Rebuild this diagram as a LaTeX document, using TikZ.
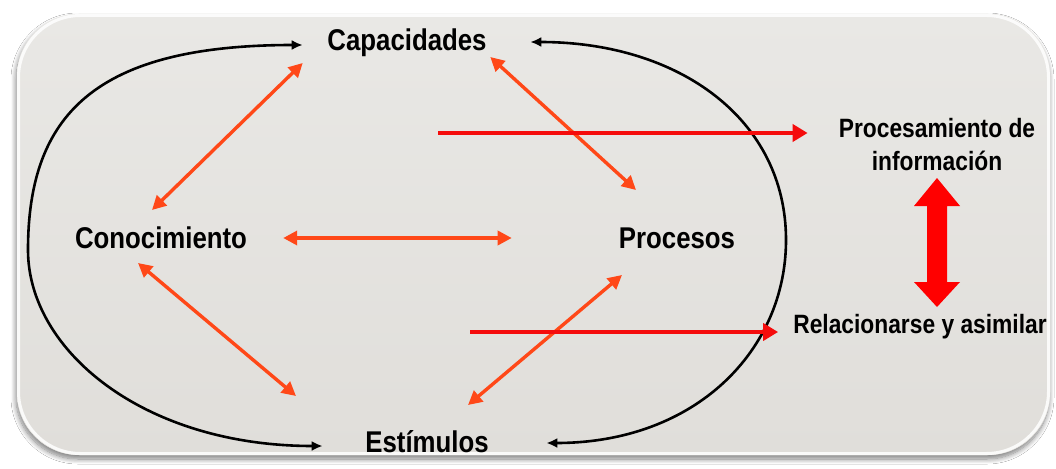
\documentclass[tikz,border=0pt]{standalone}
\usepackage{fontspec}
\newfontfamily\lab{Liberation Sans}[FakeStretch=0.86]
\usetikzlibrary{arrows.meta,shadows.blur,calc}
\definecolor{bgtop}{RGB}{233,232,229}
\definecolor{bgbot}{RGB}{224,222,218}
\definecolor{org}{RGB}{255,72,24}
\definecolor{rd}{RGB}{245,12,12}
\definecolor{bigred}{RGB}{255,0,0}
\tikzset{
  lbl/.style={font=\lab\bfseries\fontsize{30}{34}\selectfont, inner sep=0pt, text=black},
  lbls/.style={font=\lab\bfseries\fontsize{26.5}{33}\selectfont, inner sep=0pt, align=center, text=black},
  oarrow/.style={org, line width=3.4pt, {Triangle[length=14pt,width=14pt]}-{Triangle[length=14pt,width=14pt]}},
  rarrow/.style={rd, line width=4.5pt, -{Triangle[length=15pt,width=17pt]}},
  barrow/.style={black, line width=2.6pt, {Latex[length=11pt,width=10pt]}-{Latex[length=11pt,width=10pt]}},
  frame/.style={rounded corners=62pt}
}
\begin{document}
\begin{tikzpicture}[x=1pt,y=-1pt]
\useasboundingbox[fill=white] (0,0) rectangle (1056,468);
% frame
\path[frame, fill=bgtop, blur shadow={shadow xshift=-1pt, shadow yshift=-4pt, shadow blur steps=10, shadow opacity=50, shadow blur radius=5pt}] (17,14) rectangle (1050,455);
\shade[frame, top color=bgtop, bottom color=bgbot] (17,14) rectangle (1050,455);
\draw[frame, white, line width=3pt, opacity=0.85] (18.5,15.5) rectangle (1048.5,453.5);

% labels
\node[lbl, anchor=base] (cap) at (407,51) {Capacidades};
\node[lbl, anchor=base] (con) at (161,248) {Conocimiento};
\node[lbl, anchor=base] (pro) at (677,248) {Procesos};
\node[lbl, anchor=base] (est) at (427,452) {Estímulos};
\node[lbls, anchor=base] (proc) at (937,170) {Procesamiento de\\información};
\node[lbls, anchor=base] (rel) at (920,333) {Relacionarse y asimilar};

% arrow end points, placed beside the labels
\coordinate (capSW) at ($(cap.base west)+(-24.5,12)$);
\coordinate (capL)  at ($(cap.base west)+(-24.5,-6)$);
\coordinate (capSE) at ($(cap.base east)+(3.5,6)$);
\coordinate (capR)  at ($(cap.base east)+(43.5,-9)$);
\coordinate (conNE) at ($(con.base)+(-9,-38)$);
\coordinate (conE)  at ($(con.base east)+(36,-10)$);
\coordinate (conSE) at ($(con.base)+(-23,15)$);
\coordinate (proNW) at ($(pro.base)+(-41,-58)$);
\coordinate (proW)  at ($(pro.base west)+(-107,-10)$);
\coordinate (proSW) at ($(pro.base)+(-55,27)$);
\coordinate (estNW) at ($(est.base)+(-131,-56)$);
\coordinate (estNE) at ($(est.base)+(41,-47)$);
\coordinate (estL)  at ($(est.base west)+(-42.5,-6)$);
\coordinate (estR)  at ($(est.base east)+(57.5,-9)$);
\coordinate (r1) at (438,133);
\coordinate (r2) at (470,332);

% black loops
\draw[barrow] (capL) .. controls (95,45) and (28,115) .. (28,250)
                     .. controls (28,350) and (143,446) .. (estL);
\draw[barrow] (capR) .. controls (680,42) and (786,120) .. (786,240)
                     .. controls (786,350) and (696,443) .. (estR);

% orange double arrows
\draw[oarrow] (capSW) -- (conNE);
\draw[oarrow] (capSE) -- (proNW);
\draw[oarrow] (conE) -- (proW);
\draw[oarrow] (conSE) -- (estNW);
\draw[oarrow] (proSW) -- (estNE);

% red arrows
\draw[rarrow] (r1) -- ($(proc.west|-r1)+(-31,0)$);
\draw[rarrow] (r2) -- ($(rel.west|-r2)+(-15,0)$);

% big double arrow between the right-hand labels
\fill[bigred] (937,178) -- (960,206) -- (947,206) -- (947,282) -- (960,282)
   -- (937,307) -- (914,282) -- (927,282) -- (927,206) -- (914,206) -- cycle;
\end{tikzpicture}
\end{document}
